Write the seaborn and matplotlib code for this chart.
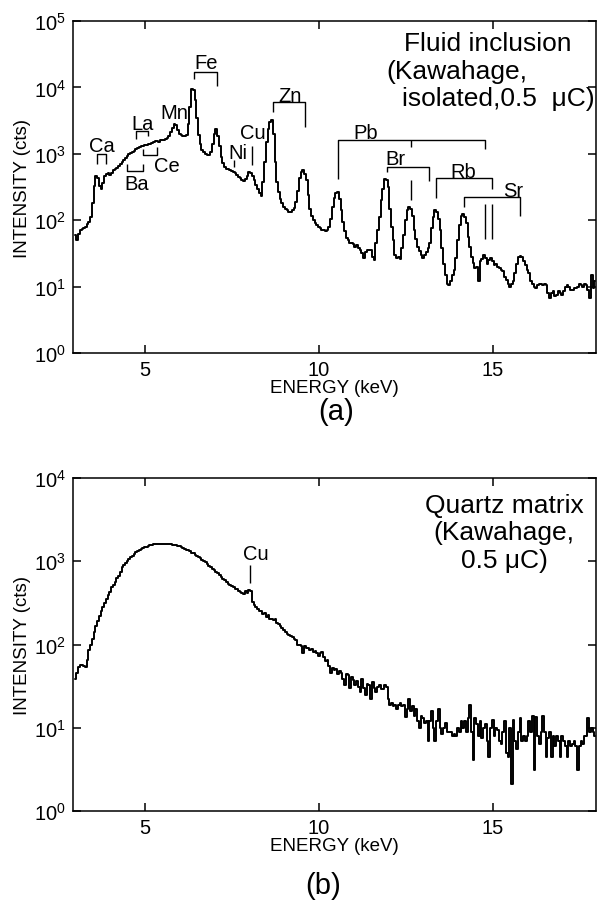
import numpy as np
import pandas as pd
import matplotlib
matplotlib.use("Agg")
import matplotlib.pyplot as plt
import seaborn as sns

# ---------------- data ----------------
E_START = 3.00      # keV, first channel centre
E_STEP = 0.05       # keV per channel

# (a) fluid inclusion spectrum, counts per channel
fluid_counts = [
    60, 50, 62, 72, 74, 76, 80, 88, 95, 110,                      # 3.00-3.45
    180, 330, 470, 430, 330, 290, 360, 470, 500, 520,             # 3.50-3.95
    480, 510, 570, 600, 620, 660, 700, 760, 820, 860,             # 4.00-4.45
    920, 990, 1030, 1080, 1120, 1180, 1210, 1250, 1300, 1320,     # 4.50-4.95
    1340, 1380, 1400, 1420, 1460, 1500, 1560, 1580, 1530, 1600,   # 5.00-5.45
    1620, 1640, 1680, 1720, 1850, 2100, 2450, 2800, 2700, 2300,   # 5.50-5.95
    2000, 1900, 1850, 1850, 1900, 2800, 5000, 9400, 9000, 6500,   # 6.00-6.45
    3500, 1900, 1400, 1150, 1050, 980, 950, 960, 1050, 1400,      # 6.50-6.95
    2000, 2350, 1850, 1300, 900, 720, 630, 600, 590, 580,         # 7.00-7.45
    560, 540, 520, 480, 455, 430, 405, 395, 420, 470,             # 7.50-7.95
    530, 520, 470, 400, 340, 300, 260, 235, 380, 760,             # 8.00-8.45
    1500, 2400, 3000, 3200, 2000, 750, 380, 270, 210, 180,        # 8.50-8.95
    160, 145, 140, 135, 132, 140, 155, 185, 280, 430,             # 9.00-9.45
    540, 570, 500, 400, 240, 150, 115, 100, 92, 85,               # 9.50-9.95
    80, 75, 70, 72, 68, 72, 80, 105, 160, 215,                    # 10.00-10.45
    260, 270, 210, 140, 95, 68, 54, 50, 46, 45,                   # 10.50-10.95
    44, 40, 42, 38, 35, 32, 27, 33, 36, 35,                       # 11.00-11.45
    36, 28, 25, 45, 70, 110, 200, 300, 420, 410,                  # 11.50-11.95
    320, 150, 80, 50, 30, 27, 28, 26, 38, 60,                     # 12.00-12.45
    100, 140, 158, 150, 115, 70, 52, 40, 34, 30,                  # 12.50-12.95
    27, 30, 33, 38, 45, 75, 110, 140, 135, 105,                   # 13.00-13.45
    70, 38, 22, 15, 11, 10.5, 12, 15, 18, 27,                     # 13.50-13.95
    50, 85, 115, 126, 110, 90, 55, 40, 28, 23,                    # 14.00-14.45
    19, 20, 12, 24, 26, 30, 27, 22, 25, 27,                       # 14.50-14.95
    24, 21, 22, 20, 19, 18, 17, 14, 12.5, 11,                     # 15.00-15.45
    10, 11, 12, 16, 22, 28, 29, 28, 24, 21,                       # 15.50-15.95
    18, 16, 12, 11, 10, 9.5, 10.5, 11, 11, 10.5,                  # 16.00-16.45
    11, 10.5, 8, 6.8, 8, 8.5, 7.3, 7.5, 8.5, 8,                   # 16.50-16.95
    7.6, 8.5, 10, 10.5, 10, 9, 9, 9.5, 9.5, 10,                   # 17.00-17.45
    11, 10.5, 10, 11, 10.5, 9, 6.8, 15, 9.5, 12,                  # 17.50-17.95
]

# (b) quartz matrix spectrum, counts per channel
quartz_counts = [
    38, 45, 54, 56, 57, 55, 54, 65, 85, 100,                      # 3.00-3.45
    115, 140, 165, 190, 220, 250, 280, 315, 350, 390,             # 3.50-3.95
    430, 490, 520, 570, 630, 670, 740, 850, 900, 950,             # 4.00-4.45
    1010, 1070, 1110, 1160, 1220, 1280, 1310, 1360, 1400, 1440,   # 4.50-4.95
    1470, 1500, 1530, 1560, 1580, 1590, 1600, 1610, 1620, 1630,   # 5.00-5.45
    1625, 1620, 1630, 1610, 1600, 1590, 1580, 1570, 1550, 1530,   # 5.50-5.95
    1510, 1480, 1450, 1420, 1380, 1350, 1310, 1270, 1240, 1200,   # 6.00-6.45
    1160, 1120, 1080, 1040, 1000, 970, 930, 880, 850, 800,        # 6.50-6.95
    780, 750, 720, 680, 640, 620, 590, 570, 540, 520,             # 7.00-7.45
    500, 490, 470, 460, 440, 430, 420, 400, 440, 420,             # 7.50-7.95
    450, 445, 320, 300, 280, 270, 255, 250, 230, 240,             # 8.00-8.45
    215, 225, 205, 200, 195, 200, 180, 175, 168, 160,             # 8.50-8.95
    150, 140, 135, 130, 128, 122, 118, 112, 100, 98,              # 9.00-9.45
    95, 79, 95, 90, 92, 86, 88, 82, 84, 80,                       # 9.50-9.95
    72, 78, 81, 70, 64, 66, 55, 45, 52, 50,                       # 10.00-10.45
    51, 44, 48, 45, 38, 33, 44, 43, 30, 41,                       # 10.50-10.95
    37, 33, 36, 31, 27, 39, 30, 25, 34, 33,                       # 11.00-11.45
    22, 35, 30, 27, 31, 33, 29, 29, 33, 31,                       # 11.50-11.95
    22, 19, 20, 18, 19, 17, 19, 20, 18, 19,                       # 12.00-12.45
    13.5, 17, 22, 16, 18, 14, 17, 12, 10, 14,                     # 12.50-12.95
    13, 11.5, 12, 7, 12, 16, 10, 7, 12, 17,                       # 13.00-13.45
    10, 8.5, 10, 11.5, 9, 9, 9, 8, 8.5, 8,                        # 13.50-13.95
    10, 9, 12, 10, 12, 9, 13, 19, 9, 4.1,                         # 14.00-14.45
    13, 11, 8, 12, 7.5, 10, 11, 7, 4.4, 10,                       # 14.50-14.95
    12.5, 8, 10, 9.5, 7, 6.3, 9, 12, 5, 4.4,                      # 15.00-15.45
    10, 2.1, 12.5, 7, 5.5, 9, 13, 7, 8, 7,                        # 15.50-15.95
    8, 12, 9, 14, 3.1, 13.5, 8, 6.3, 9, 14,                       # 16.00-16.45
    9, 4.4, 7.5, 9, 4.4, 8, 6, 8, 7, 4.4,                         # 16.50-16.95
    8, 7, 6, 4.4, 7, 6, 6.3, 7, 6, 3.1,                           # 17.00-17.45
    6, 7, 6.3, 8, 8, 13, 9, 10, 9, 8,                             # 17.50-17.95
]

energy_kev = np.round(E_START + E_STEP * np.arange(len(fluid_counts)), 3)

x_ticks = [5, 10, 15]

df_a = pd.DataFrame({"energy": energy_kev, "counts": fluid_counts})
df_b = pd.DataFrame({"energy": energy_kev[:len(quartz_counts)], "counts": quartz_counts})

# ---------------- style ----------------
sns.set_theme(style="ticks")
plt.rcParams["font.family"] = ["Liberation Sans", "DejaVu Sans"]
plt.rcParams["axes.edgecolor"] = "black"
plt.rcParams["axes.linewidth"] = 1.1
plt.rcParams["text.color"] = "black"
plt.rcParams["axes.labelcolor"] = "black"
plt.rcParams["xtick.color"] = "black"
plt.rcParams["ytick.color"] = "black"

fig = plt.figure(figsize=(5.98, 9.03), dpi=100)
ax_a = fig.add_axes([73 / 598, 1 - 354 / 903, 523 / 598, 332 / 903])
ax_b = fig.add_axes([73 / 598, 1 - 812 / 903, 523 / 598, 333 / 903])

TICK_FS = 14.5
LABEL_FS = 13.5
ANN_FS = 14.5
BIG_FS = 19

for ax, df, ytop in ((ax_a, df_a, 1e5), (ax_b, df_b, 1e4)):
    sns.lineplot(data=df, x="energy", y="counts", ax=ax, color="black",
                 linewidth=1.4, drawstyle="steps-mid", estimator=None, sort=True)
    ax.set_yscale("log")
    ax.set_ylim(1, ytop)
    ax.set_xlim(2.93, 17.97)
    ax.set_xticks(x_ticks)
    ax.set_xticklabels([str(t) for t in x_ticks])
    ax.yaxis.set_minor_locator(matplotlib.ticker.NullLocator())
    ax.tick_params(axis="both", which="major", direction="in", length=6, width=1.1,
                   top=True, right=True, labelsize=TICK_FS, pad=5)
    ax.set_xlabel("ENERGY (keV)", fontsize=LABEL_FS, labelpad=0)
    ax.set_ylabel("INTENSITY (cts)", fontsize=LABEL_FS, labelpad=2)
    for s in ax.spines.values():
        s.set_visible(True)
        s.set_linewidth(1.1)


def seg(ax, xs, ys, lw=1.0):
    ax.plot(xs, ys, color="black", lw=lw, solid_capstyle="butt")


def label(ax, x, y, s):
    ax.text(x, y, s, ha="center", va="center", fontsize=ANN_FS)


# ---- panel (a) annotations ----
a = ax_a
# Ca
seg(a, [3.61, 3.61, 3.88, 3.88], [708, 1000, 1000, 708]); label(a, 3.76, 1330, "Ca")
# La
seg(a, [4.74, 4.74, 5.09, 5.09], [1680, 2230, 2230, 1880]); label(a, 4.94, 2820, "La")
# Ba
seg(a, [4.49, 4.49, 4.93, 4.93], [708, 551, 551, 708]); label(a, 4.76, 355, "Ba")
# Ce
seg(a, [4.93, 4.93, 5.34, 5.34], [1190, 966, 966, 1260]); label(a, 5.62, 668, "Ce")
# Mn
label(a, 5.83, 4220, "Mn")
# Fe
seg(a, [6.42, 6.42, 7.06, 7.06], [13300, 17100, 17100, 10350]); label(a, 6.75, 23700, "Fe")
# Ni
seg(a, [7.57, 7.57], [632, 794]); label(a, 7.66, 1060, "Ni")
# Cu
seg(a, [8.07, 8.07], [668, 1330]); label(a, 8.10, 2110, "Cu")
# Zn
seg(a, [8.67, 8.67, 9.60, 9.60], [4220, 6080, 6080, 2570]); label(a, 9.17, 7480, "Zn")
# Pb
seg(a, [10.56, 10.56, 14.79, 14.79], [422, 1620, 1620, 1190]); seg(a, [12.64, 12.64], [1260, 1620])
label(a, 11.34, 2110, "Pb")
# Br
seg(a, [11.96, 11.96, 13.17, 13.17], [532, 632, 632, 385]); label(a, 12.21, 841, "Br")
seg(a, [12.64, 12.64], [200, 398])
# Rb
seg(a, [13.38, 13.38, 14.99, 14.99], [217, 433, 433, 299]); label(a, 14.15, 543, "Rb")
# Sr
seg(a, [14.18, 14.18, 15.78, 15.78], [159, 224, 224, 116]); label(a, 15.58, 282, "Sr")
seg(a, [14.77, 14.77], [53, 178]); seg(a, [14.99, 14.99], [53, 178])

a.text(0.633, 0.913, "Fluid inclusion", transform=a.transAxes, fontsize=BIG_FS, ha="left", va="baseline")
a.text(0.600, 0.828, "(Kawahage,", transform=a.transAxes, fontsize=BIG_FS, ha="left", va="baseline")
a.text(0.629, 0.747, "isolated,0.5  \u03bcC)", transform=a.transAxes, fontsize=BIG_FS, ha="left", va="baseline")

# ---- panel (b) annotations ----
b = ax_b
seg(b, [8.02, 8.02], [555, 895]); label(b, 8.18, 1237, "Cu")
b.text(0.824, 0.897, "Quartz matrix", transform=b.transAxes, fontsize=BIG_FS, ha="center", va="baseline")
b.text(0.824, 0.817, "(Kawahage,", transform=b.transAxes, fontsize=BIG_FS, ha="center", va="baseline")
b.text(0.824, 0.733, "0.5 \u03bcC)", transform=b.transAxes, fontsize=BIG_FS, ha="center", va="baseline")

fig.text(336 / 598, 1 - 412 / 903, "(a)", ha="center", va="center", fontsize=21)
fig.text(323 / 598, 1 - 886 / 903, "(b)", ha="center", va="center", fontsize=21)

fig.savefig("out.png", dpi=100, facecolor="white")
